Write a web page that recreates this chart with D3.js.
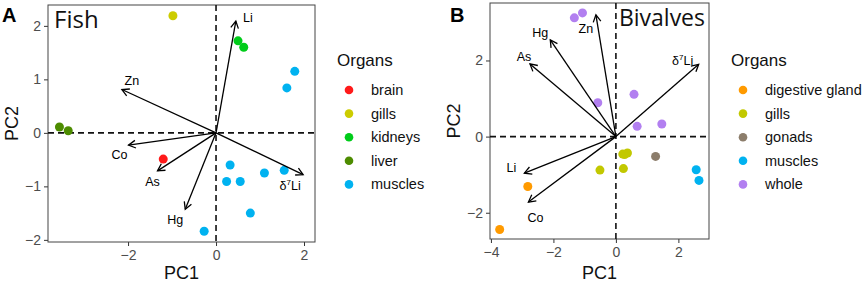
<!DOCTYPE html>
<meta charset="utf-8">
<style>
body { margin: 0; background: #fff; }
text { font-family: "Liberation Sans", Arial, sans-serif; }
.tick text { fill: #4d4d4d; font-size: 14px; }
.tick line { stroke: #333; }
.domain { display: none; }
</style>
<body>
<script src="https://d3js.org/d3.v7.min.js"></script>
<script>

// ---- Fish panel data
var fishOrgans = ["brain", "gills", "kidneys", "liver", "muscles"];
var fishColors = ["#ff1a1a", "#cccc00", "#00cc1a", "#4d8c00", "#00b2f0"];
var fishPC1 = [-1.2, -0.98, 0.5, 0.63, -3.56, -3.36, 1.79, 1.61, 0.32, 1.1, 1.55, 0.24, 0.55, 0.78, -0.27];
var fishPC2 = [-0.49, 2.19, 1.72, 1.60, 0.11, 0.04, 1.15, 0.84, -0.6, -0.75, -0.70, -0.91, -0.91, -1.5, -1.84];
var fishGroup = ["brain", "gills", "kidneys", "kidneys", "liver", "liver",
  "muscles", "muscles", "muscles", "muscles", "muscles", "muscles", "muscles", "muscles", "muscles"];
var fishVars = ["Li", "Zn", "Co", "As", "Hg", "δ7Li"];
var fishLoadX = [0.45, -2.14, -1.99, -1.33, -0.70, 1.98];
var fishLoadY = [2.09, 0.81, -0.23, -0.71, -1.43, -0.78];
var fishXTicks = [-2, 0, 2];
var fishYTicks = [-2, -1, 0, 1, 2];

// ---- Bivalves panel data
var bivOrgans = ["digestive gland", "gills", "gonads", "muscles", "whole"];
var bivColors = ["#ff9a00", "#c2c800", "#8c7d6b", "#00b2f0", "#b27ff0"];
var bivPC1 = [-1.33, -1.07, -0.58, 0.58, 0.68, 1.47, -0.51, 0.22, 0.37, 0.28, 0.24, 1.27, 2.57, 2.66, -2.82, -3.72];
var bivPC2 = [3.12, 3.25, 0.89, 1.11, 0.27, 0.33, -0.88, -0.46, -0.43, -0.47, -0.84, -0.52, -0.87, -1.15, -1.31, -2.44];
var bivGroup = ["whole", "whole", "whole", "whole", "whole", "whole", "gills", "gills", "gills", "gills", "gills",
  "gonads", "muscles", "muscles", "digestive gland", "digestive gland"];
var bivVars = ["Zn", "Hg", "As", "δ7Li", "Li", "Co"];
var bivLoadX = [-0.64, -2.1, -2.75, 2.65, -2.93, -2.8];
var bivLoadY = [3.2, 2.54, 1.91, 1.9, -0.96, -1.72];
var bivXTicks = [-4, -2, 0, 2];
var bivYTicks = [-2, 0, 2];

var svg = d3.select("body").append("svg")
  .attr("width", 865)
  .attr("height", 283);

function panel(o) {
  var x = d3.scaleLinear().domain(o.xdom).range([o.left, o.right]);
  var y = d3.scaleLinear().domain(o.ydom).range([o.bottom, o.top]);
  var g = svg.append("g");

  // axes
  g.append("g")
    .attr("transform", "translate(0," + o.bottom + ")")
    .call(d3.axisBottom(x).tickValues(o.xticks).tickSize(4).tickPadding(4).tickFormat(d3.format("d")))
    .selectAll(".tick text").text(function(d) { return d < 0 ? "\u2212" + Math.abs(d) : d; });
  g.append("g")
    .attr("transform", "translate(" + o.left + ",0)")
    .call(d3.axisLeft(y).tickValues(o.yticks).tickSize(4).tickPadding(3))
    .selectAll(".tick text").text(function(d) { return d < 0 ? "\u2212" + Math.abs(d) : d; });

  // panel border
  g.append("rect")
    .attr("x", o.left).attr("y", o.top)
    .attr("width", o.right - o.left).attr("height", o.bottom - o.top)
    .attr("fill", "none").attr("stroke", "#444").attr("stroke-width", 1);

  // zero lines
  g.append("line")
    .attr("x1", o.left).attr("x2", o.right).attr("y1", y(0)).attr("y2", y(0))
    .attr("stroke", "#111").attr("stroke-width", 1.6).attr("stroke-dasharray", "6,4");
  g.append("line")
    .attr("x1", x(0)).attr("x2", x(0)).attr("y1", o.top).attr("y2", o.bottom)
    .attr("stroke", "#111").attr("stroke-width", 1.6).attr("stroke-dasharray", "6,4");

  // points
  var color = d3.scaleOrdinal().domain(o.organs).range(o.colors);
  g.selectAll("circle.pt")
    .data(o.px.map(function(v, i) { return {x: v, y: o.py[i], g: o.groups[i]}; }))
    .enter().append("circle")
    .attr("class", "pt")
    .attr("cx", function(d) { return x(d.x); })
    .attr("cy", function(d) { return y(d.y); })
    .attr("r", 4.5)
    .attr("fill", function(d) { return color(d.g); });

  // loading arrows
  var loads = o.vars.map(function(v, i) { return {name: v, x: o.lx[i], y: o.ly[i], dx: o.labOff[i][0], dy: o.labOff[i][1]}; });
  loads.forEach(function(d) {
    var x0 = x(0), y0 = y(0), x1 = x(d.x), y1 = y(d.y);
    var a = Math.atan2(y1 - y0, x1 - x0), h = 8, s = 0.5;
    g.append("line")
      .attr("x1", x0).attr("y1", y0).attr("x2", x1).attr("y2", y1)
      .attr("stroke", "#000").attr("stroke-width", 1.3);
    g.append("path")
      .attr("d", "M" + (x1 - h * Math.cos(a - s)) + "," + (y1 - h * Math.sin(a - s)) +
        "L" + x1 + "," + y1 +
        "L" + (x1 - h * Math.cos(a + s)) + "," + (y1 - h * Math.sin(a + s)))
      .attr("fill", "none").attr("stroke", "#000").attr("stroke-width", 1.3);
    var t = g.append("text")
      .attr("x", x1 + d.dx).attr("y", y1 + d.dy)
      .attr("text-anchor", "middle").attr("dominant-baseline", "central")
      .attr("font-size", 12.5).attr("fill", "#000");
    if (d.name === "δ7Li") {
      t.append("tspan").text("δ");
      t.append("tspan").attr("font-size", 8).attr("dy", -4).text("7");
      t.append("tspan").attr("dy", 4).text("Li");
    } else {
      t.text(d.name);
    }
  });

  // title inside panel
  g.append("text")
    .attr("x", o.titleX).attr("y", o.titleY)
    .attr("text-anchor", o.titleAnchor)
    .style("font-family", "'Open Sans', sans-serif")
    .attr("font-size", o.titleSize).attr("fill", "#111")
    .text(o.title);

  // panel letter
  g.append("text")
    .attr("x", o.letterX).attr("y", 22)
    .attr("font-size", 20).attr("font-weight", "bold").attr("fill", "#000")
    .text(o.letter);

  // axis titles
  g.append("text")
    .attr("x", (o.left + o.right) / 2).attr("y", 279)
    .attr("text-anchor", "middle").attr("font-size", 18).attr("fill", "#111")
    .text("PC1");
  g.append("text")
    .attr("transform", "translate(" + (o.left - 30) + "," + ((o.top + o.bottom) / 2) + ") rotate(-90)")
    .attr("text-anchor", "middle").attr("font-size", 18).attr("fill", "#111")
    .text("PC2");

  // legend
  var lg = g.append("g").attr("transform", "translate(" + o.legX + ",0)");
  lg.append("text").attr("x", -12).attr("y", 66)
    .attr("font-size", 17).attr("fill", "#111").text("Organs");
  o.organs.forEach(function(name, i) {
    lg.append("circle").attr("cx", 0).attr("cy", 90 + i * 23.6).attr("r", 4.3).attr("fill", color(name));
    lg.append("text").attr("x", 22).attr("y", 90 + i * 23.6)
      .attr("dominant-baseline", "central").attr("font-size", 14.5).attr("fill", "#111").text(name);
  });
}

panel({
  xdom: [-3.82, 2.25], ydom: [-2.04, 2.39],
  left: 48, right: 315, top: 5, bottom: 242,
  xticks: fishXTicks, yticks: fishYTicks,
  organs: fishOrgans, colors: fishColors,
  px: fishPC1, py: fishPC2, groups: fishGroup,
  vars: fishVars, lx: fishLoadX, ly: fishLoadY,
  labOff: [[12, -3], [10, -9], [-9, 10], [-5, 11], [-10, 11], [-13, 11]],
  title: "Fish", titleX: 54, titleY: 28, titleSize: 24, titleAnchor: "start",
  letter: "A", letterX: 2,
  legX: 349
});

panel({
  xdom: [-4.03, 2.98], ydom: [-2.69, 3.51],
  left: 490, right: 709, top: 3, bottom: 239,
  xticks: bivXTicks, yticks: bivYTicks,
  organs: bivOrgans, colors: bivColors,
  px: bivPC1, py: bivPC2, groups: bivGroup,
  vars: bivVars, lx: bivLoadX, ly: bivLoadY,
  labOff: [[-10, 14], [-10, -7], [-6, -7], [-16, -3], [-13, -5], [7, 16]],
  title: "Bivalves", titleX: 705, titleY: 26, titleSize: 23, titleAnchor: "end",
  letter: "B", letterX: 450,
  legX: 743
});

</script>
</body>
